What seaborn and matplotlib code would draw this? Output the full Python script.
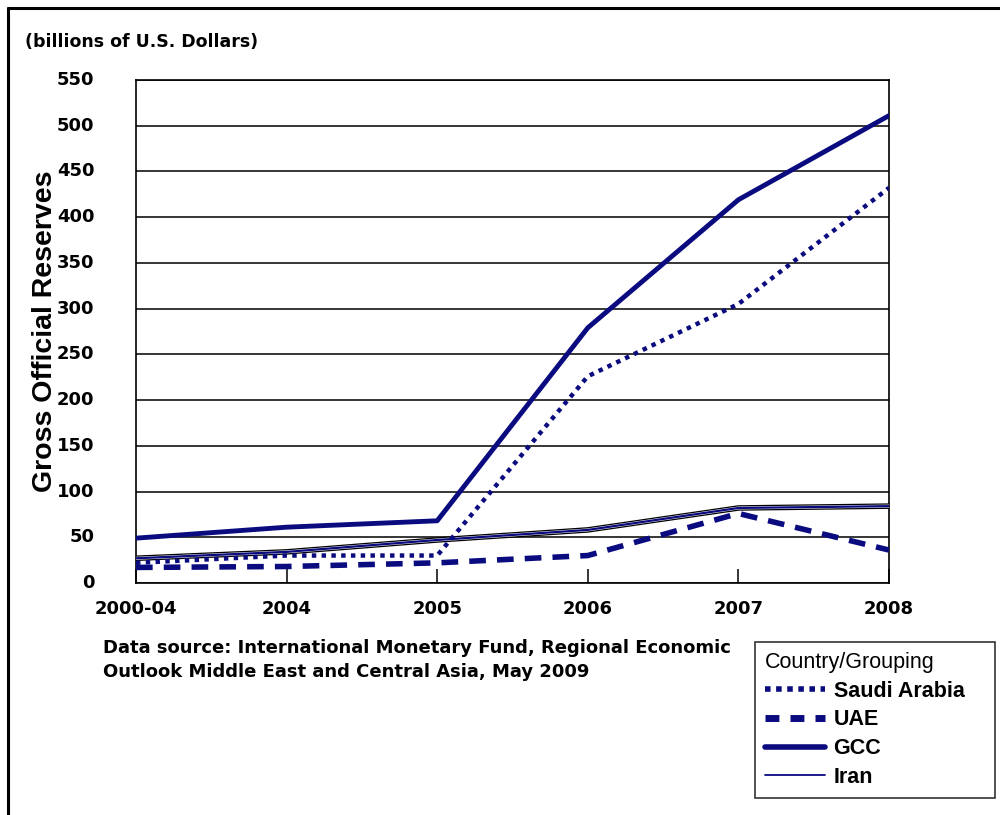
import matplotlib
matplotlib.use("Agg")
import matplotlib.pyplot as plt
import matplotlib.patheffects as pe
from matplotlib.lines import Line2D
from matplotlib.font_manager import FontProperties
import seaborn as sns
import pandas as pd
import numpy as np

periods = ["2000-04", "2004", "2005", "2006", "2007", "2008"]
saudi = [22, 30, 30, 226, 305, 432]
uae = [17, 18, 22, 30, 76, 36]
gcc = [49, 61, 68, 279, 419, 511]
iran = [27, 34, 47, 58, 82, 84]

sns.set_theme(style="white")
plt.rcParams['font.family'] = ['DejaVu Sans']
plt.rcParams['text.color'] = 'black'

navy = "#0b0b80"
fig = plt.figure(figsize=(10, 8.15), dpi=100)
ax = fig.add_axes([0.136, 0.2847, 0.753, 0.6172])

x = np.arange(len(periods))
df = pd.DataFrame({"x": x, "Saudi Arabia": saudi, "UAE": uae, "GCC": gcc, "Iran": iran})

sns.lineplot(data=df, x="x", y="Iran", ax=ax, color=navy, lw=1.6, label="Iran",
             path_effects=[pe.Stroke(linewidth=4.0, foreground="black"),
                           pe.Stroke(linewidth=2.2, foreground="white"),
                           pe.Normal()], zorder=3)
sns.lineplot(data=df, x="x", y="UAE", ax=ax, color=navy, lw=4, label="UAE", zorder=4)
sns.lineplot(data=df, x="x", y="Saudi Arabia", ax=ax, color=navy, lw=3.2, label="Saudi Arabia", zorder=4)
sns.lineplot(data=df, x="x", y="GCC", ax=ax, color=navy, lw=3.5, label="GCC", zorder=5)

lines = ax.get_lines()
lines[1].set_linestyle((0, (3, 2)))
lines[2].set_linestyle((0, (1, 1.2)))

ax.set_xlim(0, len(periods) - 1)
ax.set_ylim(0, 550)
ax.set_yticks(np.arange(0, 551, 50))
ax.set_xticks(x)
ax.set_xticklabels(periods)
ax.yaxis.grid(True, color="black", lw=1.1)
ax.xaxis.grid(False)
for s in ax.spines.values():
    s.set_color("black")
    s.set_linewidth(1.2)
ax.tick_params(axis="x", direction="in", length=10, width=1.1, color="black",
               bottom=True, pad=12)
ax.tick_params(axis="y", left=False, pad=24)
for lbl in ax.get_xticklabels() + ax.get_yticklabels():
    lbl.set_fontweight("bold")
    lbl.set_fontsize(13)
    lbl.set_color("black")
for lbl in ax.get_yticklabels():
    lbl.set_verticalalignment("center")
ax.set_xlabel("")
ax.set_ylabel("Gross Official Reserves", color="black", labelpad=0,
              fontproperties=FontProperties(family="Liberation Sans", weight="bold", size=20.5))
ax.yaxis.set_label_coords(-0.103, 0.5)

ax.legend_.remove()
h_saudi = Line2D([], [], color=navy, lw=4, linestyle=(0, (1, 1)))
h_uae = Line2D([], [], color=navy, lw=5, linestyle=(0, (2, 1.6)))
h_gcc = Line2D([], [], color=navy, lw=4)
h_iran = Line2D([], [], color=navy, lw=1.3)
leg = fig.legend([h_saudi, h_uae, h_gcc, h_iran], ["Saudi Arabia", "UAE", "GCC", "Iran"],
                 loc="upper left", bbox_to_anchor=(0.755, 0.018, 0.24, 0.194), mode="expand",
                 title="Country/Grouping",
                 prop={"family": "Liberation Sans", "size": 15.5, "weight": "bold"},
                 title_fontproperties={"family": "Liberation Sans", "size": 15.5},
                 frameon=True, fancybox=False,
                 edgecolor="black", handlelength=2.8, handletextpad=0.4,
                 borderpad=0.45, labelspacing=0.36, alignment="left", borderaxespad=0)
leg.get_frame().set_linewidth(1.2)
for t in leg.get_texts():
    t.set_color("black")
leg.get_title().set_color("black")

fig.text(0.025, 0.948, "(billions of U.S. Dollars)", fontsize=12.5, fontweight="bold",
         color="black", va="center")
fig.text(0.103, 0.216, "Data source: International Monetary Fund, Regional Economic\nOutlook Middle East and Central Asia, May 2009",
         fontsize=13, fontweight="bold", color="black", va="top", linespacing=1.42)

top_y = 1 - 8 / 815
fig.add_artist(Line2D([0.008, 1.0], [top_y, top_y], transform=fig.transFigure, color="black", lw=2.2))
fig.add_artist(Line2D([0.008, 0.008], [0.0, top_y], transform=fig.transFigure, color="black", lw=2.2))

fig.savefig("out.png", dpi=100)
